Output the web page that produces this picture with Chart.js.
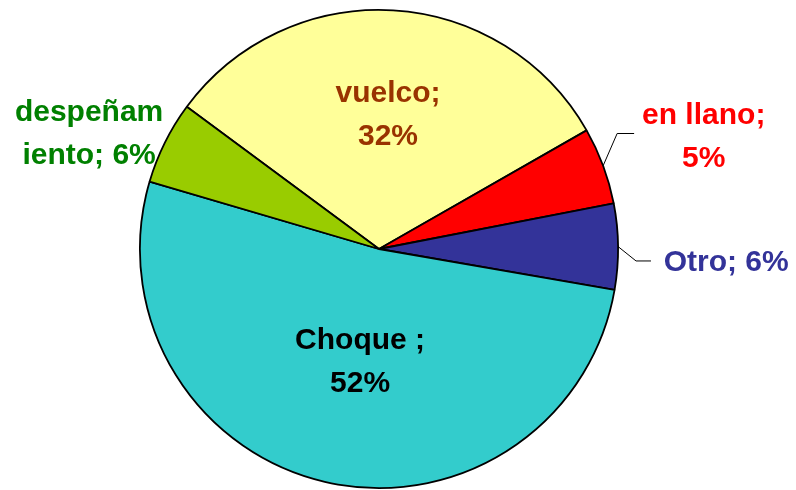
<!DOCTYPE html>
<html>
<head>
<meta charset="utf-8">
<script src="https://cdn.jsdelivr.net/npm/chart.js@4"></script>
<style>
  html, body { margin: 0; padding: 0; background: #ffffff; }
  #wrap { width: 796px; height: 490px; }
</style>
</head>
<body>
<div id="wrap"><canvas id="pie" width="796" height="490"></canvas></div>
<script>
// categories, read clockwise starting at the top-left edge of "vuelco"
const categories = ['vuelco', 'en llano', 'Otro', 'Choque', 'despeñamiento'];
const shares = [31.6, 5.2, 5.8, 51.8, 5.6];
const sliceColors = ['#FFFF99', '#FF0000', '#333399', '#33CCCC', '#99CC00'];
const textColors = ['#993300', '#FF0000', '#333399', '#000000', '#008000'];

// label text per slice (line breaks as on the picture)
function labelLines(i, pct) {
    switch (i) {
        case 0: return ['vuelco;', pct + '%'];
        case 1: return ['en llano;', pct + '%'];
        case 2: return ['Otro; ' + pct + '%'];
        case 3: return ['Choque ;', pct + '%'];
        case 4: return ['despeñam', 'iento; ' + pct + '%'];
    }
}

// label anchors relative to pie centre, in radius units
const labelPos = [[0.0375, -0.569], [1.358, -0.475], [1.452, 0.048], [-0.079, 0.4625], [-1.2125, -0.49]];
// leader lines: elbow + end, in radius units (null = none)
const leaders = [null, [[0.996, -0.483], [1.067, -0.483]], [[1.075, 0.05], [1.1375, 0.05]], null, null];

const labelPlugin = {
    id: 'sliceLabels',
    afterDatasetsDraw(chart) {
        const ctx = chart.ctx;
        const arcs = chart.getDatasetMeta(0).data;
        const total = shares.reduce((a, b) => a + b, 0);
        ctx.save();
        arcs.forEach((arc, i) => {
            const { x, y, outerRadius, startAngle, endAngle } = arc.getProps(['x', 'y', 'outerRadius', 'startAngle', 'endAngle'], true);
            const R = outerRadius;

            if (leaders[i]) {
                const mid = (startAngle + endAngle) / 2;
                ctx.beginPath();
                ctx.moveTo(x + Math.cos(mid) * R, y + Math.sin(mid) * R);
                leaders[i].forEach(p => ctx.lineTo(x + p[0] * R, y + p[1] * R));
                ctx.strokeStyle = '#000000';
                ctx.lineWidth = 1;
                ctx.stroke();
            }

            const pct = Math.round(shares[i] / total * 100);
            const lines = labelLines(i, pct);
            const ax = x + labelPos[i][0] * R;
            const ay = y + labelPos[i][1] * R;
            ctx.font = 'bold 30px "Liberation Sans", Arial, sans-serif';
            ctx.fillStyle = textColors[i];
            ctx.textAlign = 'center';
            ctx.textBaseline = 'alphabetic';
            if (lines.length === 1) {
                ctx.fillText(lines[0], ax, ay + 11);
            } else {
                ctx.fillText(lines[0], ax, ay - 11);
                ctx.fillText(lines[1], ax, ay + 32);
            }
        });
        ctx.restore();
    }
};

new Chart(document.getElementById('pie'), {
    type: 'pie',
    data: {
        labels: categories,
        datasets: [{
            data: shares,
            backgroundColor: sliceColors,
            borderColor: '#000000',
            borderWidth: 1.8
        }]
    },
    options: {
        responsive: false,
        animation: false,
        rotation: -53.5,
        layout: { padding: { left: 139, right: 177, top: 9, bottom: 1 } },
        plugins: {
            legend: { display: false },
            tooltip: { enabled: false }
        }
    },
    plugins: [labelPlugin]
});
</script>
</body>
</html>
